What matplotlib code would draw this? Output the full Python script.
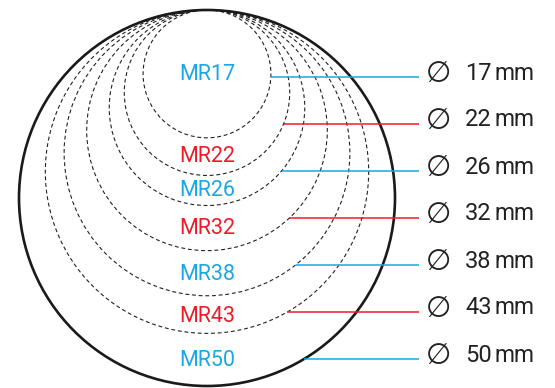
import matplotlib
matplotlib.use('Agg')
import numpy as np
import matplotlib.pyplot as plt
from matplotlib.patches import Circle

# lamp sizes (diameter in mm) and their labels
sizes = [17, 22, 26, 32, 38, 43, 50]
names = ['MR17', 'MR22', 'MR26', 'MR32', 'MR38', 'MR43', 'MR50']
colors = ['#1aa7e6', '#ec1c2a', '#1aa7e6', '#ec1c2a', '#1aa7e6', '#ec1c2a', '#1aa7e6']

# layout (pixels)
cx, top = 207, 10
scale = 188 / 25.0          # px radius per mm of diameter
name_y = [75, 156, 191, 229, 275, 316, 360]
row_y0, row_step = 77, 47
line_end = 419

fig = plt.figure(figsize=(5.55, 3.88), dpi=100)
ax = fig.add_axes([0, 0, 1, 1])
ax.set_xlim(0, 555)
ax.set_ylim(388, 0)
ax.set_aspect('equal')
ax.axis('off')

for i, (d, name, c) in enumerate(zip(sizes, names, colors)):
    r = d * scale / 2
    cy = top + r
    last = i == len(sizes) - 1
    if last:
        ax.add_patch(Circle((cx, cy), r, fill=False, ec='#1a1a1a', lw=1.9))
    else:
        ax.add_patch(Circle((cx, cy), r, fill=False, ec='#222222', lw=0.8,
                            ls=(0, (3.5, 2.5))))
    ax.text(cx, name_y[i], name, color=c, fontsize=15.5, family='Roboto',
            ha='center', va='center')

    ry = row_y0 + row_step * i
    dx = np.sqrt(max(r ** 2 - (ry - cy) ** 2, 0))
    ax.plot([cx + dx, line_end], [ry, ry], color=c, lw=1.1, solid_capstyle='butt')
    ax.text(439, ry - 3, '\u2205', fontsize=21, family='DejaVu Sans',
            color='#222222', ha='center', va='center')
    ax.text(465, ry - 4, str(d), fontsize=17, family='Roboto',
            color='#222222', ha='left', va='center')
    ax.text(495, ry - 4, 'mm', fontsize=16.5, family='Roboto',
            color='#222222', ha='left', va='center')

fig.savefig('out.png', dpi=100)
